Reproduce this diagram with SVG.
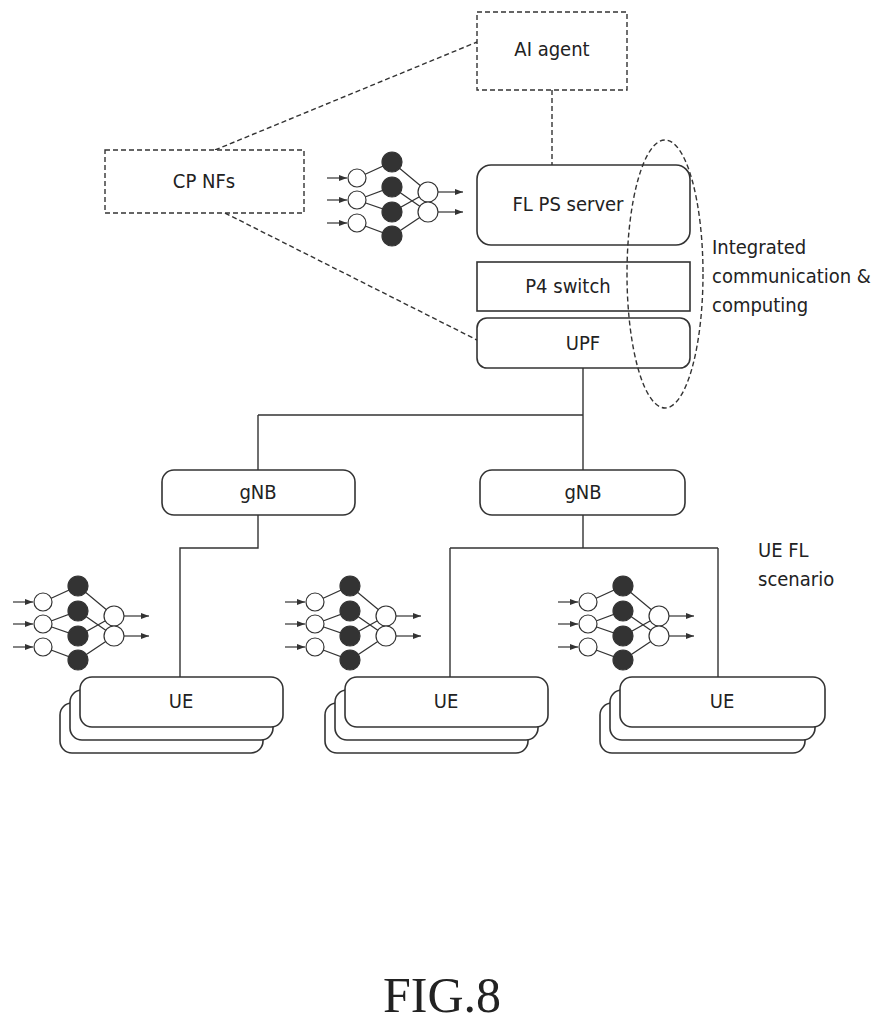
<svg xmlns="http://www.w3.org/2000/svg" width="885" height="1024" viewBox="0 0 885 1024">
<style>
.t{font-family:"DejaVu Sans Condensed","Liberation Sans",sans-serif;font-size:20px;fill:#222}
.b{fill:#fff;stroke:#333;stroke-width:1.6}
.d{fill:#fff;stroke:#333;stroke-width:1.4;stroke-dasharray:5 3}
.c{fill:none;stroke:#333;stroke-width:1.4}
.cd{fill:none;stroke:#333;stroke-width:1.4;stroke-dasharray:5 3}
</style>
<defs>
<marker id="a" markerWidth="8" markerHeight="6" refX="8" refY="3" orient="auto" markerUnits="userSpaceOnUse"><path d="M0,0L8,3L0,6z" fill="#333"/></marker>
<g id="nn" stroke="#333" stroke-width="1.2">
<g fill="none"><line x1="-30" y1="0" x2="-10" y2="0" marker-end="url(#a)"/><line x1="-30" y1="22" x2="-10" y2="22" marker-end="url(#a)"/><line x1="-30" y1="45" x2="-10" y2="45" marker-end="url(#a)"/>
<line x1="81" y1="14" x2="106" y2="14" marker-end="url(#a)"/><line x1="81" y1="34" x2="106" y2="34" marker-end="url(#a)"/>
<path d="M0,0L35,-16L71,14M0,22L35,9L71,34M0,22L35,34L71,14M0,45L35,58L71,34"/></g>
<g fill="#fff"><circle cx="0" cy="0" r="9"/><circle cx="0" cy="22" r="9"/><circle cx="0" cy="45" r="9"/><circle cx="71" cy="14" r="10"/><circle cx="71" cy="34" r="10"/></g>
<g fill="#333"><circle cx="35" cy="-16" r="10"/><circle cx="35" cy="9" r="10"/><circle cx="35" cy="34" r="10"/><circle cx="35" cy="58" r="10"/></g>
</g>
</defs>
<g id="connectors">
<path class="cd" d="M552,90V165M215,150L477,42M225,213L477,340"/>
<path class="c" d="M583,368V470M258,415H583M258,415V470M258,515V548H180V677M583,515V548M450,548H718M450,548V677M718,548V677"/>
</g>
<g id="ai"><rect class="d" x="477" y="12" width="150" height="78"/><text class="t" x="552" y="56" text-anchor="middle">AI agent</text></g>
<g id="cp"><rect class="d" x="105" y="150" width="199" height="63"/><text class="t" x="204" y="188" text-anchor="middle">CP NFs</text></g>
<g id="flps"><rect class="b" x="477" y="165" width="213" height="80" rx="14"/><text class="t" x="568" y="211" text-anchor="middle">FL PS server</text></g>
<g id="p4"><rect class="b" x="477" y="262" width="213" height="49"/><text class="t" x="568" y="293" text-anchor="middle">P4 switch</text></g>
<g id="upf"><rect class="b" x="477" y="318" width="213" height="50" rx="10"/><text class="t" x="583" y="350" text-anchor="middle">UPF</text></g>
<g id="icc"><ellipse class="cd" cx="665" cy="274" rx="38" ry="134" stroke-width="2"/>
<text class="t" x="712" y="254">Integrated</text><text class="t" x="712" y="283">communication &amp;</text><text class="t" x="712" y="312">computing</text></g>
<g id="gnb1"><rect class="b" x="162" y="470" width="193" height="45" rx="12"/><text class="t" x="258" y="499" text-anchor="middle">gNB</text></g>
<g id="gnb2"><rect class="b" x="480" y="470" width="205" height="45" rx="12"/><text class="t" x="583" y="499" text-anchor="middle">gNB</text></g>
<text class="t" x="758" y="557">UE FL</text><text class="t" x="758" y="586">scenario</text>
<g id="nets"><use href="#nn" x="357" y="178"/><use href="#nn" x="43" y="602"/><use href="#nn" x="315" y="602"/><use href="#nn" x="588" y="602"/></g>
<g id="ue1"><rect class="b" x="60" y="703" width="203" height="50" rx="12"/><rect class="b" x="70" y="690" width="203" height="50" rx="12"/><rect class="b" x="80" y="677" width="203" height="50" rx="12"/><text class="t" x="181" y="708" text-anchor="middle">UE</text></g>
<g id="ue2"><rect class="b" x="325" y="703" width="203" height="50" rx="12"/><rect class="b" x="335" y="690" width="203" height="50" rx="12"/><rect class="b" x="345" y="677" width="203" height="50" rx="12"/><text class="t" x="446" y="708" text-anchor="middle">UE</text></g>
<g id="ue3"><rect class="b" x="600" y="703" width="205" height="50" rx="12"/><rect class="b" x="610" y="690" width="205" height="50" rx="12"/><rect class="b" x="620" y="677" width="205" height="50" rx="12"/><text class="t" x="722" y="708" text-anchor="middle">UE</text></g>
<text x="442" y="1012" text-anchor="middle" font-family="Liberation Serif,serif" font-size="50" fill="#222">FIG.8</text>
</svg>
